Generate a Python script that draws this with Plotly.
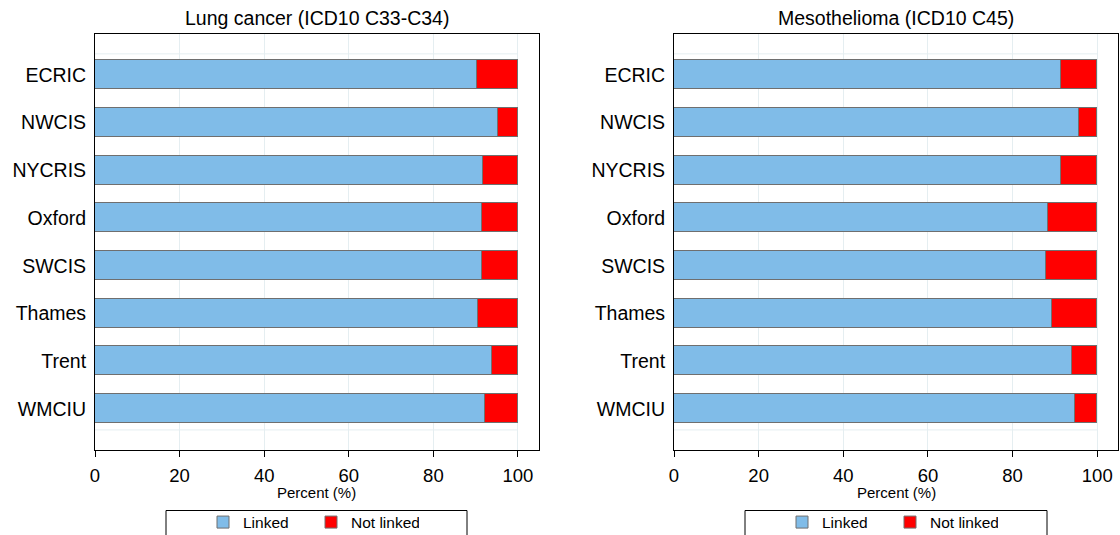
import plotly.graph_objects as go

# Registries and percentage of tumours linked / not linked
registries = ["ECRIC", "NWCIS", "NYCRIS", "Oxford", "SWCIS", "Thames", "Trent", "WMCIU"]
lung_linked = [90.4, 95.3, 91.7, 91.5, 91.6, 90.5, 93.8, 92.2]
meso_linked = [91.4, 95.6, 91.5, 88.4, 88.0, 89.4, 94.0, 94.7]
lung_not_linked = [round(100 - v, 1) for v in lung_linked]
meso_not_linked = [round(100 - v, 1) for v in meso_linked]

panel_titles = ["Lung cancer (ICD10 C33-C34)", "Mesothelioma (ICD10 C45)"]
x_ticks = [0, 20, 40, 60, 80, 100]

W, H = 1120, 535
FONT = "Liberation Sans, Arial, sans-serif"
LINKED_COLOR = "#80bce8"
NOT_LINKED_COLOR = "#ff0000"
OUTLINE = "#6f6f6f"
GRID = "#e5eef1"


def px_x(p):
    return p / W


def px_y(p):
    return 1 - p / H


fig = go.Figure()

# (linked, not linked, x axis, y axis, legend, plot frame left/right, legend box left/right)
panels = [
    (lung_linked, lung_not_linked, "x", "y", "legend", (95, 538.7), (166, 467)),
    (meso_linked, meso_not_linked, "x2", "y2", "legend2", (674, 1118), (745, 1047)),
]

for linked, not_linked, xa, ya, leg, _, _ in panels:
    fig.add_trace(go.Bar(
        y=registries, x=linked, orientation="h", name="Linked",
        marker=dict(color=LINKED_COLOR, line=dict(color=OUTLINE, width=1)),
        width=0.608, xaxis=xa, yaxis=ya, legend=leg, hoverinfo="x+y",
    ))
    fig.add_trace(go.Bar(
        y=registries, x=not_linked, orientation="h", name="Not linked",
        marker=dict(color=NOT_LINKED_COLOR, line=dict(color=OUTLINE, width=1)),
        width=0.608, xaxis=xa, yaxis=ya, legend=leg, hoverinfo="x+y",
    ))

y_top, y_bot = 34.3, 450
axis_common_x = dict(
    range=[0, 104.9], tickvals=x_ticks, ticks="outside", ticklen=6,
    tickcolor="black", tickwidth=1, showline=True, linecolor="black",
    linewidth=1, mirror=True, showgrid=True, gridcolor=GRID, gridwidth=1,
    zeroline=False, tickfont=dict(family=FONT, size=18.5, color="black"),
    ticklabelstandoff=3, fixedrange=True,
)
axis_common_y = dict(
    range=[7.86, -0.85], type="category", categoryorder="array",
    categoryarray=registries, ticks="", showline=True, linecolor="black",
    linewidth=1, mirror=True, showgrid=False, zeroline=False,
    tickfont=dict(family=FONT, size=19.5, color="black"),
    ticklabelstandoff=4, fixedrange=True,
)

layout = dict(
    width=W, height=H,
    margin=dict(l=0, r=0, t=0, b=0, autoexpand=False),
    paper_bgcolor="white", plot_bgcolor="white",
    barmode="stack", bargap=0,
    font=dict(family=FONT, color="black"),
    showlegend=True,
)

annotations = []
shapes = []
for i, (linked, not_linked, xa, ya, leg, (x0, x1), (lx0, lx1)) in enumerate(panels):
    suffix = "" if i == 0 else "2"
    layout["xaxis" + suffix] = dict(
        axis_common_x, domain=[px_x(x0), px_x(x1)], anchor="y" + suffix)
    layout["yaxis" + suffix] = dict(
        axis_common_y, domain=[px_y(y_bot), px_y(y_top)], anchor="x" + suffix)
    cx = (x0 + x1) / 2
    layout[leg] = dict(
        orientation="h", x=px_x(lx0 + 37), xanchor="left",
        y=px_y(505.5), yanchor="top",
        borderwidth=0, bgcolor="rgba(0,0,0,0)",
        font=dict(family=FONT, size=15.5, color="black"),
        entrywidth=63, entrywidthmode="pixels",
        traceorder="normal", itemclick=False, itemdoubleclick=False,
    )
    # legend frame
    shapes.append(dict(
        type="rect", xref="paper", yref="paper",
        x0=px_x(lx0), x1=px_x(lx1), y0=px_y(560), y1=px_y(510.5),
        line=dict(color="black", width=1), fillcolor="rgba(0,0,0,0)",
    ))
    annotations.append(dict(
        text=panel_titles[i], x=px_x(cx), y=px_y(18), xref="paper", yref="paper",
        xanchor="center", yanchor="middle", showarrow=False,
        font=dict(family=FONT, size=19.5, color="black"),
    ))
    annotations.append(dict(
        text="Percent (%)", x=px_x(cx), y=px_y(492), xref="paper", yref="paper",
        xanchor="center", yanchor="middle", showarrow=False,
        font=dict(family=FONT, size=15, color="black"),
    ))
    # faint boundary lines of the category band
    for yv in (-0.44, 7.44):
        shapes.append(dict(
            type="line", xref="x" + suffix, yref="y" + suffix,
            x0=0, x1=100, y0=yv, y1=yv,
            line=dict(color=GRID, width=1), layer="below",
        ))

layout["annotations"] = annotations
layout["shapes"] = shapes
fig.update_layout(**layout)

fig.write_html("out.html")
